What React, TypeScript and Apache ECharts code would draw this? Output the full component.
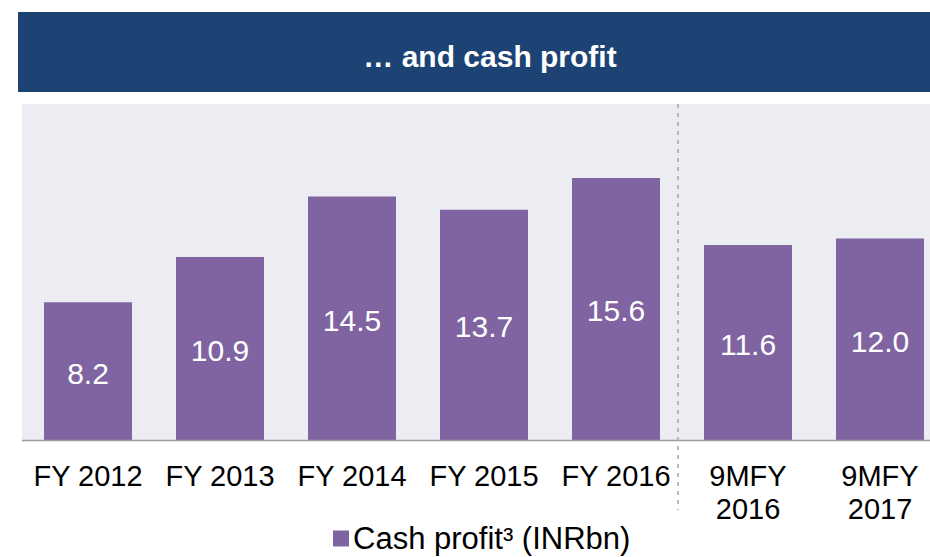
import React, { useEffect, useRef } from "react";
import * as echarts from "echarts";

const categories = ["FY 2012", "FY 2013", "FY 2014", "FY 2015", "FY 2016", "9MFY\n2016", "9MFY\n2017"];
const cashProfit = [8.2, 10.9, 14.5, 13.7, 15.6, 11.6, 12.0];
const seriesName = "Cash profit³ (INRbn)";
const titleText = "… and cash profit";

const FONT = "'Liberation Sans', Arial, Helvetica, sans-serif";

export default function App() {
  const ref = useRef<HTMLDivElement>(null);
  useEffect(() => {
    document.body.style.margin = "0";
    if (!ref.current) return;
    const chart = echarts.init(ref.current, null, { renderer: "svg" });
    chart.setOption({
      animation: false,
      backgroundColor: "#ffffff",
      textStyle: { fontFamily: FONT },
      grid: {
        left: 88,
        top: 104,
        width: 792,
        height: 336,
        show: false,
        containLabel: false,
      },
      legend: {
        data: [seriesName],
        left: 333,
        top: 523,
        padding: 0,
        itemWidth: 16,
        itemHeight: 16,
        itemGap: 0,
        icon: "rect",
        textStyle: {
          fontSize: 31,
          lineHeight: 29,
          color: "#000",
          fontFamily: FONT,
          padding: [0, 0, 0, -1],
        },
      },
      xAxis: {
        type: "category",
        data: categories,
        boundaryGap: false,
        axisLine: { show: false },
        axisTick: { show: false },
        splitLine: { show: false },
        axisLabel: {
          color: "#000",
          fontSize: 29,
          lineHeight: 33,
          margin: 19,
          interval: 0,
          fontFamily: FONT,
        },
      },
      yAxis: {
        type: "value",
        min: 0,
        max: 20,
        show: false,
        splitLine: { show: false },
      },
      graphic: [
        {
          type: "rect",
          shape: { x: 18, y: 12, width: 912, height: 80 },
          style: { fill: "#1c4373" },
          z: 0,
        },
        {
          type: "text",
          x: 490,
          y: 56,
          style: {
            text: titleText,
            fill: "#ffffff",
            font: `bold 30px ${FONT}`,
            textAlign: "center",
            textVerticalAlign: "middle",
          },
          z: 1,
        },
        {
          type: "rect",
          shape: { x: 22, y: 104, width: 908, height: 336 },
          style: { fill: "#ecedf2" },
          z: -10,
        },
        {
          type: "line",
          shape: { x1: 22, y1: 440.5, x2: 930, y2: 440.5 },
          style: { stroke: "#9a9a9a", lineWidth: 1.5 },
          z: 20,
        },
        {
          type: "line",
          shape: { x1: 678, y1: 104, x2: 678, y2: 510 },
          style: { stroke: "#a6a6a6", lineWidth: 1.5, lineDash: [4, 5] },
          z: 20,
        },
      ],
      series: [
        {
          name: seriesName,
          type: "bar",
          data: cashProfit,
          barWidth: 88,
          clip: false,
          z: 5,
          itemStyle: { color: "#8064a2" },
          label: {
            show: true,
            position: "inside",
            offset: [0, 2],
            color: "#ffffff",
            fontSize: 30,
            fontFamily: FONT,
            textBorderWidth: 0,
            textBorderColor: "transparent",
            formatter: (p: any) => Number(p.value).toFixed(1),
          },
        },
      ],
    });
    return () => chart.dispose();
  }, []);
  return <div ref={ref} style={{ width: 930, height: 557 }} />;
}
